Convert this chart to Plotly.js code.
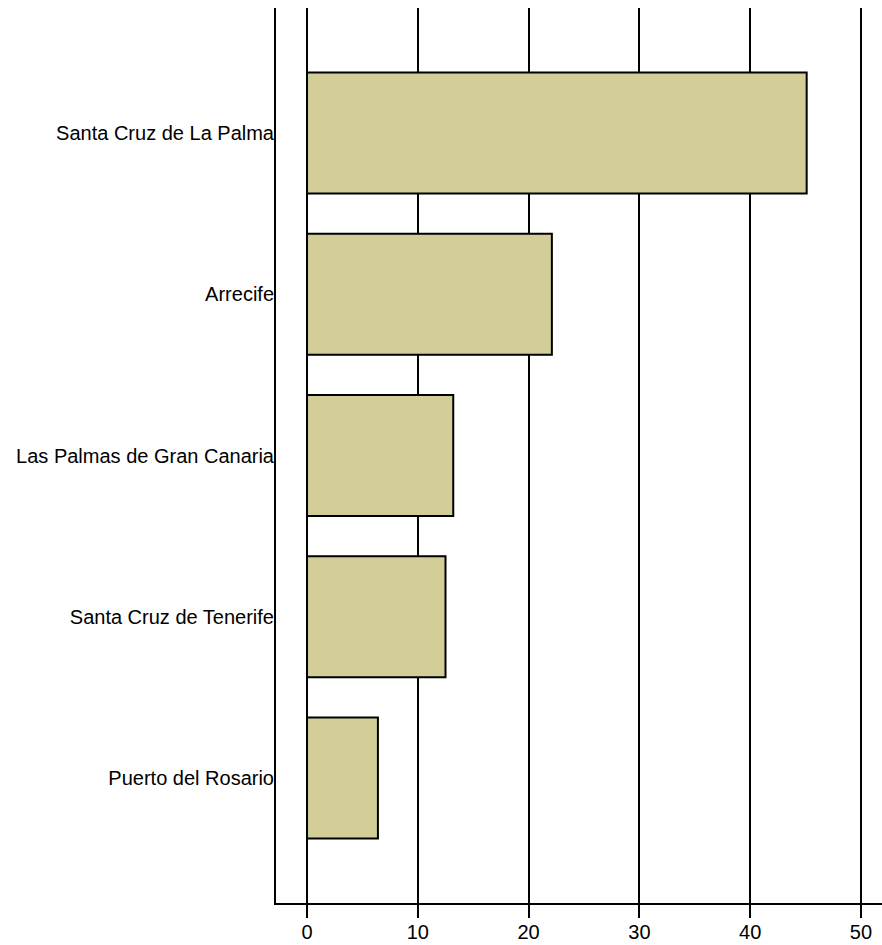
<!DOCTYPE html>
<html>
<head>
<meta charset="utf-8">
<script src="https://cdn.plot.ly/plotly-3.0.1.min.js"></script>
<style>html,body{margin:0;padding:0;background:#fff;}#chart{width:882px;height:945px;}</style>
</head>
<body>
<div id="chart"></div>
<script>
const categories = ["Santa Cruz de La Palma", "Arrecife", "Las Palmas de Gran Canaria", "Santa Cruz de Tenerife", "Puerto del Rosario"];
const values = [45.1, 22.1, 13.2, 12.5, 6.4];
const tickValues = [0, 10, 20, 30, 40, 50];
const tickLabels = ["0", "10", "20", "30", "40", "50"];

const trace = {
  type: "bar",
  orientation: "h",
  x: values,
  y: categories,
  width: 0.75,
  marker: {color: "#D3CE98", line: {color: "#000000", width: 2}},
  hoverinfo: "x+y"
};

const layout = {
  width: 882,
  height: 945,
  margin: {l: 276, r: 0, t: 8, b: 42, pad: 0},
  paper_bgcolor: "#ffffff",
  plot_bgcolor: "#ffffff",
  showlegend: false,
  font: {family: "Liberation Sans, Arial, sans-serif", size: 20, color: "#000"},
  xaxis: {
    range: [-2.8, 51.9],
    tickvals: tickValues,
    ticktext: tickLabels,
    showgrid: true,
    gridcolor: "#000",
    gridwidth: 2,
    zeroline: false,
    showline: true,
    linecolor: "#000",
    linewidth: 2,
    ticks: "outside",
    ticklen: 13,
    tickwidth: 2,
    tickcolor: "#000",
    tickfont: {size: 20, color: "#000"},
    ticklabelstandoff: -3
  },
  yaxis: {
    type: "category",
    range: [4.775, -0.775],
    showgrid: false,
    zeroline: false,
    showline: true,
    linecolor: "#000",
    linewidth: 2,
    ticks: "",
    tickfont: {size: 20, color: "#000"},
    ticklabelstandoff: -4
  },
  bargap: 0.25
};

Plotly.newPlot("chart", [trace], layout, {displayModeBar: false, staticPlot: true});
</script>
</body>
</html>
